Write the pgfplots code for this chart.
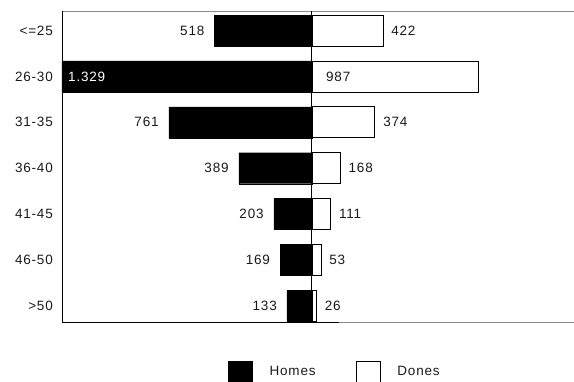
\documentclass[border=0pt]{standalone}
\usepackage{fontspec}
\setmainfont{Liberation Sans}[LetterSpace=6]
\usepackage{pgfplots}
\pgfplotsset{compat=1.18}
\definecolor{axgray}{HTML}{8C8C8C}
\definecolor{txt}{HTML}{1A1A1A}
\newcommand{\lblfont}{\fontsize{13.5bp}{16bp}\selectfont}
\begin{document}
\begin{tikzpicture}[font=\lblfont]
\useasboundingbox (-62bp,-60bp) rectangle (512bp,322bp);
\pgfplotsset{base/.style={scale only axis, width=512bp, height=311bp,
  ymin=-0.35, ymax=6.425, xbar, bar width=31bp, bar shift=0pt, clip=false,
  axis line style={draw=none}, xtick=\empty, ytick=\empty,
  anchor=south west, at={(0,0)},
  tick label style={font=\lblfont}, nodes near coords style={font=\lblfont}}}
\begin{axis}[base, xmin=-1329, xmax=1393,
  ytick={0,...,6},
  yticklabels={{>50},{46-50},{41-45},{36-40},{31-35},{26-30},{<=25}},
  major tick length=0pt,
  yticklabel style={inner sep=0pt, xshift=-9bp, text=txt},
  legend style={draw=none, fill=none, at={(0.3242,-0.164)}, anchor=west,
    legend columns=-1, inner sep=0pt, font=\lblfont, nodes={inner sep=0pt, text=txt},
    /tikz/every odd column/.append style={column sep=17bp},
    /tikz/every even column/.append style={column sep=40bp}},
]
\addplot[forget plot, bar shift=0pt, fill=black, draw=black, point meta=explicit symbolic, nodes near coords,
  every node near coord/.append style={anchor=east, inner sep=0pt, xshift=-10bp, text=txt}]
  coordinates {(-518,6)[518] (-1329,5)[] (-761,4)[761] (-389,3)[389]
               (-203,2)[203] (-169,1)[169] (-133,0)[133]};
\node[anchor=west, text=white, inner sep=0pt, xshift=6bp, font=\lblfont] at (axis cs:-1329,5) {1.329};
\addlegendimage{legend image code/.code={\draw[fill=black,draw=black] (0bp,-13bp) rectangle (24bp,11bp);}}
\addlegendentry{Homes}
\addlegendimage{legend image code/.code={\draw[fill=white,draw=black,line width=0.8bp] (0bp,-13bp) rectangle (24bp,11bp);}}
\addlegendentry{Dones}
\end{axis}
\begin{axis}[base, xmin=-1486.5, xmax=1558]
\addplot[bar shift=0pt, fill=white, draw=black, line width=0.8bp, point meta=explicit symbolic, nodes near coords,
  every node near coord/.append style={anchor=west, inner sep=0pt, xshift=8bp, text=txt}]
  coordinates {(422,6)[422] (987,5)[] (374,4)[374] (168,3)[168]
               (111,2)[111] (53,1)[53] (26,0)[26]};
\node[anchor=west, inner sep=0pt, xshift=14bp, text=txt, font=\lblfont] at (axis cs:0,5) {987};
\draw[axgray, line width=1bp] (rel axis cs:0,1) -- (rel axis cs:1,1);
\draw[axgray, line width=1bp] (rel axis cs:0.541,0) -- (rel axis cs:1,0);
\draw[black, line width=1bp] (rel axis cs:0,0) -- (rel axis cs:0.541,0);
\draw[black, line width=1bp] (rel axis cs:0,0) -- (rel axis cs:0,1);
\draw[black, line width=1bp] (axis cs:0,-0.35) -- (axis cs:0,6.425);
\end{axis}
\end{tikzpicture}
\end{document}
